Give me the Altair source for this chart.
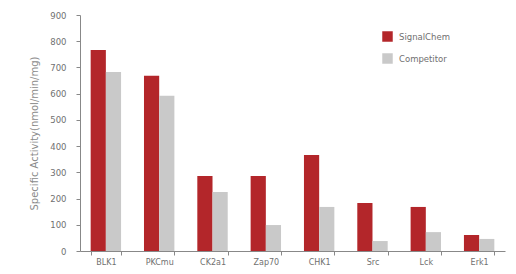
import altair as alt
import pandas as pd

categories = ["BLK1", "PKCmu", "CK2a1", "Zap70", "CHK1", "Src", "Lck", "Erk1"]
signalchem = [767, 668, 286, 286, 366, 183, 168, 61]
competitor = [683, 592, 225, 99, 168, 38, 72, 46]
series = ["SignalChem", "Competitor"]

rows = []
for c, s, k in zip(categories, signalchem, competitor):
    rows.append({"cat": c, "series": "SignalChem", "value": s})
    rows.append({"cat": c, "series": "Competitor", "value": k})
df = pd.DataFrame(rows)

font = "DejaVu Sans"
txt = "#707070"

chart = alt.Chart(df).mark_bar().encode(
    x=alt.X("cat:N", sort=categories, title=None,
            scale=alt.Scale(paddingInner=0.43, paddingOuter=0.2),
            axis=alt.Axis(labelAngle=0, tickBand="extent", labelFontSize=8, labelColor=txt,
                          labelFont=font, domainColor="#888", tickColor="#888", tickSize=4,
                          labelPadding=3)),
    xOffset=alt.XOffset("series:N", sort=series),
    y=alt.Y("value:Q", title="Specific Activity(nmol/min/mg)",
            scale=alt.Scale(domain=[0, 900]),
            axis=alt.Axis(values=list(range(0, 901, 100)), grid=False, labelFontSize=8.5,
                          labelColor=txt, labelFont=font, titleFont=font, titleFontSize=10,
                          titleColor="#8a8a8a", titleFontWeight="normal", domainColor="#888",
                          tickColor="#888", tickSize=4, labelPadding=10, titlePadding=10)),
    color=alt.Color("series:N", sort=series,
                    scale=alt.Scale(domain=series, range=["#b3262a", "#c9c9c9"]),
                    legend=alt.Legend(title=None, orient="none", legendX=302, legendY=16,
                                      symbolType="square", symbolSize=110, symbolStrokeWidth=0,
                                      labelFont=font, labelFontSize=8.5, labelColor=txt,
                                      rowPadding=11, labelOffset=6)),
).properties(
    width=425, height=236,
    autosize=alt.AutoSizeParams(type="none"),
    padding={"left": 72, "top": 7, "right": 3, "bottom": 20},
).configure_view(stroke=None)

chart.save("out.html", embed_options={"renderer": "svg", "actions": False})
